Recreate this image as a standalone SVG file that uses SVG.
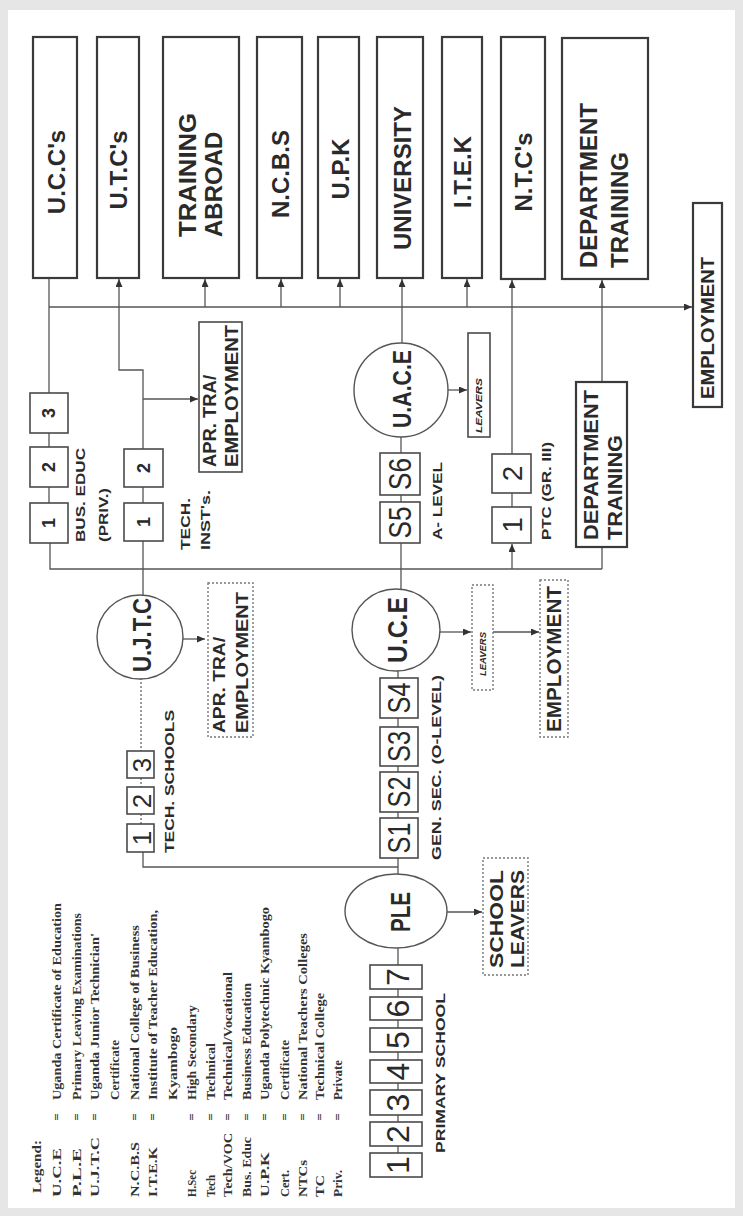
<svg xmlns="http://www.w3.org/2000/svg" width="743" height="1216" viewBox="0 0 743 1216">
<style>
.bg{fill:#e6e6e6}
.page{fill:#fff}
.box{fill:#fff;stroke:#3a3a3a;stroke-width:2.2}
.sbox{fill:#fff;stroke:#4a4a4a;stroke-width:1.6}
.dbox{fill:#fff;stroke:#777;stroke-width:1.4;stroke-dasharray:2 2}
.circ{fill:#fff;stroke:#555;stroke-width:1.4}
.ln{fill:none;stroke:#555;stroke-width:1.3}
.dl{fill:none;stroke:#666;stroke-width:1.3;stroke-dasharray:2 2}
.lbl{font-family:"Liberation Sans",Arial,sans-serif;font-weight:bold;fill:#2a2a2a}
.num{font-family:"Liberation Sans",Arial,sans-serif;fill:#2a2a2a}
.leg{font-family:"Liberation Serif","Times New Roman",serif;font-weight:bold;fill:#333;font-size:12.5px}
</style>
<defs>
<marker id="arr" markerUnits="userSpaceOnUse" markerWidth="8" markerHeight="7" refX="8" refY="3.5" orient="auto">
<path d="M0,0 L8,3.5 L0,7 z" fill="#333"/>
</marker>
</defs>
<rect class="bg" x="0" y="0" width="743" height="1216"/>
<rect class="page" x="8" y="10" width="727" height="1198"/>

<g id="connectors">
<!-- primary school line -->
<line class="ln" x1="398" y1="1165" x2="398" y2="948"/>
<!-- PLE to UCE -->
<line class="ln" x1="398" y1="874" x2="398" y2="671"/>
<!-- junction to tech schools -->
<polyline class="ln" points="398,867 143,867 143,852"/>
<line class="dl" x1="141" y1="852" x2="141" y2="679"/>
<!-- UJTC up to tech inst and UTC -->
<polyline class="ln" points="143,595 143,370 119,370 119,279" marker-end="url(#arr)"/>
<line class="ln" x1="143" y1="399" x2="198" y2="399" marker-end="url(#arr)"/>
<!-- BUS EDUC line -->
<polyline class="ln" points="602,569 50,569 50,543"/>
<line class="ln" x1="49" y1="543" x2="49" y2="278"/>
<!-- upper bus -->
<line class="ln" x1="49" y1="307" x2="692" y2="307" marker-end="url(#arr)"/>
<line class="ln" x1="205" y1="307" x2="205" y2="279" marker-end="url(#arr)"/>
<line class="ln" x1="281" y1="307" x2="281" y2="279" marker-end="url(#arr)"/>
<line class="ln" x1="340" y1="307" x2="340" y2="279" marker-end="url(#arr)"/>
<line class="ln" x1="467" y1="307" x2="467" y2="279" marker-end="url(#arr)"/>
<!-- A level column -->
<line class="ln" x1="401" y1="589" x2="401" y2="437"/>
<line class="ln" x1="402" y1="343" x2="402" y2="279" marker-end="url(#arr)"/>
<!-- PTC column -->
<line class="ln" x1="512" y1="569" x2="512" y2="544" marker-end="url(#arr)"/>
<line class="ln" x1="512" y1="543" x2="512" y2="280" marker-end="url(#arr)"/>
<!-- Department column -->
<line class="ln" x1="602" y1="569" x2="602" y2="547"/>
<line class="ln" x1="602" y1="382" x2="602" y2="280" marker-end="url(#arr)"/>
<!-- leavers arrows -->
<line class="ln" x1="448" y1="390" x2="467" y2="390" marker-end="url(#arr)"/>
<line class="ln" x1="440" y1="632" x2="471" y2="632" marker-end="url(#arr)"/>
<line class="ln" x1="493" y1="632" x2="539" y2="632" marker-end="url(#arr)"/>
<line class="ln" x1="183" y1="639" x2="205" y2="639" marker-end="url(#arr)"/>
<line class="ln" x1="447" y1="912" x2="482" y2="912" marker-end="url(#arr)"/>
</g>

<g id="ucc"><rect class="box" x="33" y="37" width="44" height="241"/>
<text class="lbl" font-size="24" transform="translate(56,172) rotate(-90)" text-anchor="middle" dominant-baseline="central">U.C.C's</text></g>
<g id="utc"><rect class="box" x="97" y="37" width="42" height="241"/>
<text class="lbl" font-size="24" transform="translate(118,170) rotate(-90)" text-anchor="middle" dominant-baseline="central">U.T.C's</text></g>
<g id="abroad"><rect class="box" x="163" y="37" width="76" height="241"/>
<text class="lbl" font-size="24" textLength="124" lengthAdjust="spacingAndGlyphs" transform="translate(187,237) rotate(-90)" dominant-baseline="central">TRAINING</text>
<text class="lbl" font-size="24" transform="translate(213,237) rotate(-90)" dominant-baseline="central">ABROAD</text></g>
<g id="ncbs"><rect class="box" x="257" y="37" width="45" height="241"/>
<text class="lbl" font-size="24" transform="translate(280,174) rotate(-90)" text-anchor="middle" dominant-baseline="central">N.C.B.S</text></g>
<g id="upk"><rect class="box" x="318" y="37" width="41" height="241"/>
<text class="lbl" font-size="24" transform="translate(340,169) rotate(-90)" text-anchor="middle" dominant-baseline="central">U.P.K</text></g>
<g id="university"><rect class="box" x="377" y="37" width="46" height="241"/>
<text class="lbl" font-size="24" transform="translate(402,178) rotate(-90)" text-anchor="middle" dominant-baseline="central">UNIVERSITY</text></g>
<g id="itek"><rect class="box" x="442" y="37" width="40" height="241"/>
<text class="lbl" font-size="24" transform="translate(462,172) rotate(-90)" text-anchor="middle" dominant-baseline="central">I.T.E.K</text></g>
<g id="ntc"><rect class="box" x="501" y="37" width="44" height="242"/>
<text class="lbl" font-size="24" transform="translate(523,172) rotate(-90)" text-anchor="middle" dominant-baseline="central">N.T.C's</text></g>
<g id="dept-top"><rect class="box" x="562" y="38" width="86" height="241"/>
<text class="lbl" font-size="24" transform="translate(588,268) rotate(-90)" dominant-baseline="central">DEPARTMENT</text>
<text class="lbl" font-size="24" transform="translate(619,268) rotate(-90)" dominant-baseline="central">TRAINING</text></g>

<g id="employment-right"><rect class="box" x="693" y="203" width="29" height="204"/>
<text class="lbl" font-size="18" textLength="142" lengthAdjust="spacingAndGlyphs" transform="translate(708,399) rotate(-90)" dominant-baseline="central">EMPLOYMENT</text></g>

<g id="bus-educ">
<rect class="sbox" x="30" y="393" width="38" height="40"/>
<rect class="sbox" x="30" y="447" width="38" height="40"/>
<rect class="sbox" x="30" y="503" width="38" height="40"/>
<text class="lbl" font-size="18" transform="translate(49,413) rotate(-90)" text-anchor="middle" dominant-baseline="central">3</text>
<text class="lbl" font-size="18" transform="translate(49,467) rotate(-90)" text-anchor="middle" dominant-baseline="central">2</text>
<text class="lbl" font-size="18" transform="translate(49,523) rotate(-90)" text-anchor="middle" dominant-baseline="central">1</text>
<text class="lbl" font-size="12" textLength="94" lengthAdjust="spacingAndGlyphs" transform="translate(81,542) rotate(-90)" dominant-baseline="central">BUS.  EDUC</text>
<text class="lbl" font-size="12" textLength="54" lengthAdjust="spacingAndGlyphs" transform="translate(104,542) rotate(-90)" dominant-baseline="central">(PRIV.)</text>
</g>

<g id="tech-inst">
<rect class="sbox" x="124" y="449" width="39" height="38"/>
<rect class="sbox" x="124" y="503" width="39" height="38"/>
<text class="lbl" font-size="18" transform="translate(144,468) rotate(-90)" text-anchor="middle" dominant-baseline="central">2</text>
<text class="lbl" font-size="18" transform="translate(144,522) rotate(-90)" text-anchor="middle" dominant-baseline="central">1</text>
<text class="lbl" font-size="12" textLength="52" lengthAdjust="spacingAndGlyphs" transform="translate(186,550) rotate(-90)" dominant-baseline="central">TECH.</text>
<text class="lbl" font-size="12" textLength="60" lengthAdjust="spacingAndGlyphs" transform="translate(206,550) rotate(-90)" dominant-baseline="central">INST's.</text>
</g>

<g id="apr-solid"><rect class="sbox" x="199" y="322" width="43" height="150"/>
<text class="lbl" font-size="18" textLength="92" lengthAdjust="spacingAndGlyphs" transform="translate(210,467) rotate(-90)" dominant-baseline="central">APR. TRA/</text>
<text class="lbl" font-size="18" textLength="142" lengthAdjust="spacingAndGlyphs" transform="translate(232,467) rotate(-90)" dominant-baseline="central">EMPLOYMENT</text></g>

<g id="ujtc"><ellipse class="circ" cx="140" cy="637" rx="43" ry="42"/>
<text class="lbl" font-size="26" textLength="74" lengthAdjust="spacingAndGlyphs" transform="translate(142,635) rotate(-90)" text-anchor="middle" dominant-baseline="central">U.J.T.C</text></g>

<g id="apr-dotted"><rect class="dbox" x="208" y="583" width="45" height="154"/>
<text class="lbl" font-size="16" textLength="96" lengthAdjust="spacingAndGlyphs" transform="translate(219,733) rotate(-90)" dominant-baseline="central">APR. TRA/</text>
<text class="lbl" font-size="17" textLength="141" lengthAdjust="spacingAndGlyphs" transform="translate(242,733) rotate(-90)" dominant-baseline="central">EMPLOYMENT</text></g>

<g id="tech-schools">
<rect class="sbox" x="127" y="751" width="27" height="27"/>
<rect class="sbox" x="127" y="787" width="27" height="27"/>
<rect class="sbox" x="127" y="824" width="27" height="28"/>
<text class="num" font-size="26" transform="translate(142,765) rotate(-90)" text-anchor="middle" dominant-baseline="central">3</text>
<text class="num" font-size="26" transform="translate(142,801) rotate(-90)" text-anchor="middle" dominant-baseline="central">2</text>
<text class="num" font-size="26" transform="translate(142,838) rotate(-90)" text-anchor="middle" dominant-baseline="central">1</text>
<text class="lbl" font-size="12" textLength="143" lengthAdjust="spacingAndGlyphs" transform="translate(170,853) rotate(-90)" dominant-baseline="central">TECH.  SCHOOLS</text>
</g>

<g id="primary">
<rect class="sbox" x="370" y="1153" width="52" height="24"/>
<rect class="sbox" x="370" y="1122" width="52" height="24"/>
<rect class="sbox" x="370" y="1090" width="52" height="25"/>
<rect class="sbox" x="370" y="1060" width="52" height="23"/>
<rect class="sbox" x="370" y="1028" width="52" height="24"/>
<rect class="sbox" x="370" y="997" width="52" height="23"/>
<rect class="sbox" x="370" y="965" width="52" height="24"/>
<text class="num" font-size="32" transform="translate(398,1165) rotate(-90)" text-anchor="middle" dominant-baseline="central">1</text>
<text class="num" font-size="32" transform="translate(398,1134) rotate(-90)" text-anchor="middle" dominant-baseline="central">2</text>
<text class="num" font-size="32" transform="translate(398,1102.5) rotate(-90)" text-anchor="middle" dominant-baseline="central">3</text>
<text class="num" font-size="32" transform="translate(398,1071.5) rotate(-90)" text-anchor="middle" dominant-baseline="central">4</text>
<text class="num" font-size="32" transform="translate(398,1040) rotate(-90)" text-anchor="middle" dominant-baseline="central">5</text>
<text class="num" font-size="32" transform="translate(398,1008.5) rotate(-90)" text-anchor="middle" dominant-baseline="central">6</text>
<text class="num" font-size="32" transform="translate(398,977) rotate(-90)" text-anchor="middle" dominant-baseline="central">7</text>
<text class="lbl" font-size="12" textLength="160" lengthAdjust="spacingAndGlyphs" transform="translate(441,1153) rotate(-90)" dominant-baseline="central">PRIMARY SCHOOL</text>
</g>

<g id="ple"><ellipse class="circ" cx="396" cy="911" rx="51" ry="37"/>
<text class="lbl" font-size="28" textLength="40" lengthAdjust="spacingAndGlyphs" transform="translate(400,912) rotate(-90)" text-anchor="middle" dominant-baseline="central">PLE</text></g>

<g id="school-leavers"><rect class="dbox" x="483" y="858" width="45" height="117"/>
<text class="lbl" font-size="19" textLength="98" lengthAdjust="spacingAndGlyphs" transform="translate(496,968) rotate(-90)" dominant-baseline="central">SCHOOL</text>
<text class="lbl" font-size="19" textLength="98" lengthAdjust="spacingAndGlyphs" transform="translate(517,968) rotate(-90)" dominant-baseline="central">LEAVERS</text></g>

<g id="gen-sec">
<rect class="sbox" x="380" y="818" width="38" height="40"/>
<rect class="sbox" x="380" y="772" width="38" height="40"/>
<rect class="sbox" x="380" y="727" width="38" height="39"/>
<rect class="sbox" x="380" y="678" width="38" height="40"/>
<text class="num" font-size="32" textLength="31" lengthAdjust="spacingAndGlyphs" transform="translate(399,838) rotate(-90)" text-anchor="middle" dominant-baseline="central">S1</text>
<text class="num" font-size="32" textLength="31" lengthAdjust="spacingAndGlyphs" transform="translate(399,792) rotate(-90)" text-anchor="middle" dominant-baseline="central">S2</text>
<text class="num" font-size="32" textLength="31" lengthAdjust="spacingAndGlyphs" transform="translate(399,746.5) rotate(-90)" text-anchor="middle" dominant-baseline="central">S3</text>
<text class="num" font-size="32" textLength="31" lengthAdjust="spacingAndGlyphs" transform="translate(399,698) rotate(-90)" text-anchor="middle" dominant-baseline="central">S4</text>
<text class="lbl" font-size="12" textLength="185" lengthAdjust="spacingAndGlyphs" transform="translate(437,860) rotate(-90)" dominant-baseline="central">GEN.  SEC.  (O-LEVEL)</text>
</g>

<g id="uce"><ellipse class="circ" cx="396" cy="630" rx="44" ry="41"/>
<text class="lbl" font-size="28" textLength="66" lengthAdjust="spacingAndGlyphs" transform="translate(397,630) rotate(-90)" text-anchor="middle" dominant-baseline="central">U.C.E</text></g>

<g id="leavers-uce"><rect class="dbox" x="472" y="585" width="21" height="105"/>
<text class="lbl" font-size="9" font-style="italic" textLength="44" lengthAdjust="spacingAndGlyphs" transform="translate(483,676) rotate(-90)" dominant-baseline="central">LEAVERS</text></g>

<g id="employment-uce"><rect class="dbox" x="540" y="580" width="28" height="157"/>
<text class="lbl" font-size="20" textLength="146" lengthAdjust="spacingAndGlyphs" transform="translate(554,732) rotate(-90)" dominant-baseline="central">EMPLOYMENT</text></g>

<g id="a-level">
<rect class="sbox" x="380" y="502" width="40" height="41"/>
<rect class="sbox" x="380" y="453" width="40" height="42"/>
<text class="num" font-size="32" textLength="32" lengthAdjust="spacingAndGlyphs" transform="translate(400,522.5) rotate(-90)" text-anchor="middle" dominant-baseline="central">S5</text>
<text class="num" font-size="32" textLength="32" lengthAdjust="spacingAndGlyphs" transform="translate(400,474) rotate(-90)" text-anchor="middle" dominant-baseline="central">S6</text>
<text class="lbl" font-size="12" textLength="78" lengthAdjust="spacingAndGlyphs" transform="translate(438,540) rotate(-90)" dominant-baseline="central">A-  LEVEL</text>
</g>

<g id="uace"><circle class="circ" cx="401" cy="390" r="47"/>
<text class="lbl" font-size="26" textLength="78" lengthAdjust="spacingAndGlyphs" transform="translate(402,389) rotate(-90)" text-anchor="middle" dominant-baseline="central">U.A.C.E</text></g>

<g id="leavers-uace"><rect class="sbox" x="468" y="333" width="22" height="104"/>
<text class="lbl" font-size="9" font-style="italic" textLength="55" lengthAdjust="spacingAndGlyphs" transform="translate(479,433) rotate(-90)" dominant-baseline="central">LEAVERS</text></g>

<g id="ptc">
<rect class="sbox" x="492" y="454" width="39" height="39"/>
<rect class="sbox" x="492" y="507" width="39" height="36"/>
<text class="num" font-size="28" transform="translate(512,473.5) rotate(-90)" text-anchor="middle" dominant-baseline="central">2</text>
<text class="num" font-size="28" transform="translate(512,525) rotate(-90)" text-anchor="middle" dominant-baseline="central">1</text>
<text class="lbl" font-size="12" textLength="98" lengthAdjust="spacingAndGlyphs" transform="translate(547,540) rotate(-90)" dominant-baseline="central">PTC  (GR. III)</text>
</g>

<g id="dept-lower"><rect class="box" x="576" y="382" width="51" height="165"/>
<text class="lbl" font-size="21" textLength="150" lengthAdjust="spacingAndGlyphs" transform="translate(590,540) rotate(-90)" dominant-baseline="central">DEPARTMENT</text>
<text class="lbl" font-size="21" textLength="105" lengthAdjust="spacingAndGlyphs" transform="translate(614,540) rotate(-90)" dominant-baseline="central">TRAINING</text></g>

<g id="legend">
<text class="leg" font-size="14" textLength="53" lengthAdjust="spacingAndGlyphs" transform="translate(37,1193) rotate(-90)" dominant-baseline="central">Legend:</text>
<text class="leg" textLength="49" lengthAdjust="spacingAndGlyphs" transform="translate(57,1197) rotate(-90)" dominant-baseline="central">U.C.E</text>
<text class="leg" transform="translate(57,1117) rotate(-90)" text-anchor="middle" dominant-baseline="central">=</text>
<text class="leg" textLength="197" lengthAdjust="spacingAndGlyphs" transform="translate(57,1100) rotate(-90)" dominant-baseline="central">Uganda Certificate of Education</text>
<text class="leg" textLength="49" lengthAdjust="spacingAndGlyphs" transform="translate(77,1197) rotate(-90)" dominant-baseline="central">P.L.E</text>
<text class="leg" transform="translate(77,1117) rotate(-90)" text-anchor="middle" dominant-baseline="central">=</text>
<text class="leg" textLength="187" lengthAdjust="spacingAndGlyphs" transform="translate(77,1100) rotate(-90)" dominant-baseline="central">Primary Leaving Examinations</text>
<text class="leg" textLength="60" lengthAdjust="spacingAndGlyphs" transform="translate(95,1197) rotate(-90)" dominant-baseline="central">U.J.T.C</text>
<text class="leg" transform="translate(95,1117) rotate(-90)" text-anchor="middle" dominant-baseline="central">=</text>
<text class="leg" textLength="167" lengthAdjust="spacingAndGlyphs" transform="translate(95,1100) rotate(-90)" dominant-baseline="central">Uganda Junior Technician'</text>
<text class="leg" textLength="60" lengthAdjust="spacingAndGlyphs" transform="translate(115,1100) rotate(-90)" dominant-baseline="central">Certificate</text>
<text class="leg" textLength="55" lengthAdjust="spacingAndGlyphs" transform="translate(135,1197) rotate(-90)" dominant-baseline="central">N.C.B.S</text>
<text class="leg" transform="translate(135,1117) rotate(-90)" text-anchor="middle" dominant-baseline="central">=</text>
<text class="leg" textLength="175" lengthAdjust="spacingAndGlyphs" transform="translate(135,1100) rotate(-90)" dominant-baseline="central">National College of Business</text>
<text class="leg" textLength="50" lengthAdjust="spacingAndGlyphs" transform="translate(153,1197) rotate(-90)" dominant-baseline="central">I.T.E.K</text>
<text class="leg" transform="translate(153,1117) rotate(-90)" text-anchor="middle" dominant-baseline="central">=</text>
<text class="leg" textLength="190" lengthAdjust="spacingAndGlyphs" transform="translate(153,1100) rotate(-90)" dominant-baseline="central">Institute of Teacher Education,</text>
<text class="leg" textLength="73" lengthAdjust="spacingAndGlyphs" transform="translate(173,1100) rotate(-90)" dominant-baseline="central">Kyambogo</text>
<text class="leg" textLength="27" lengthAdjust="spacingAndGlyphs" transform="translate(192,1197) rotate(-90)" dominant-baseline="central">H.Sec</text>
<text class="leg" transform="translate(192,1117) rotate(-90)" text-anchor="middle" dominant-baseline="central">=</text>
<text class="leg" textLength="95" lengthAdjust="spacingAndGlyphs" transform="translate(192,1100) rotate(-90)" dominant-baseline="central">High Secondary</text>
<text class="leg" textLength="22" lengthAdjust="spacingAndGlyphs" transform="translate(211,1197) rotate(-90)" dominant-baseline="central">Tech</text>
<text class="leg" transform="translate(211,1117) rotate(-90)" text-anchor="middle" dominant-baseline="central">=</text>
<text class="leg" textLength="57" lengthAdjust="spacingAndGlyphs" transform="translate(211,1100) rotate(-90)" dominant-baseline="central">Technical</text>
<text class="leg" textLength="64" lengthAdjust="spacingAndGlyphs" transform="translate(228,1197) rotate(-90)" dominant-baseline="central">Tech/VOC</text>
<text class="leg" transform="translate(228,1117) rotate(-90)" text-anchor="middle" dominant-baseline="central">=</text>
<text class="leg" textLength="128" lengthAdjust="spacingAndGlyphs" transform="translate(228,1100) rotate(-90)" dominant-baseline="central">Technical/Vocational</text>
<text class="leg" textLength="60" lengthAdjust="spacingAndGlyphs" transform="translate(247,1197) rotate(-90)" dominant-baseline="central">Bus. Educ</text>
<text class="leg" transform="translate(247,1117) rotate(-90)" text-anchor="middle" dominant-baseline="central">=</text>
<text class="leg" textLength="117" lengthAdjust="spacingAndGlyphs" transform="translate(247,1100) rotate(-90)" dominant-baseline="central">Business Education</text>
<text class="leg" textLength="45" lengthAdjust="spacingAndGlyphs" transform="translate(265,1197) rotate(-90)" dominant-baseline="central">U.P.K</text>
<text class="leg" transform="translate(265,1117) rotate(-90)" text-anchor="middle" dominant-baseline="central">=</text>
<text class="leg" textLength="193" lengthAdjust="spacingAndGlyphs" transform="translate(265,1100) rotate(-90)" dominant-baseline="central">Uganda Polytechnic Kyambogo</text>
<text class="leg" textLength="27" lengthAdjust="spacingAndGlyphs" transform="translate(285,1197) rotate(-90)" dominant-baseline="central">Cert.</text>
<text class="leg" transform="translate(285,1117) rotate(-90)" text-anchor="middle" dominant-baseline="central">=</text>
<text class="leg" textLength="60" lengthAdjust="spacingAndGlyphs" transform="translate(285,1100) rotate(-90)" dominant-baseline="central">Certificate</text>
<text class="leg" textLength="37" lengthAdjust="spacingAndGlyphs" transform="translate(303,1197) rotate(-90)" dominant-baseline="central">NTCs</text>
<text class="leg" transform="translate(303,1117) rotate(-90)" text-anchor="middle" dominant-baseline="central">=</text>
<text class="leg" textLength="167" lengthAdjust="spacingAndGlyphs" transform="translate(303,1100) rotate(-90)" dominant-baseline="central">National Teachers Colleges</text>
<text class="leg" textLength="22" lengthAdjust="spacingAndGlyphs" transform="translate(320,1197) rotate(-90)" dominant-baseline="central">TC</text>
<text class="leg" transform="translate(320,1117) rotate(-90)" text-anchor="middle" dominant-baseline="central">=</text>
<text class="leg" textLength="107" lengthAdjust="spacingAndGlyphs" transform="translate(320,1100) rotate(-90)" dominant-baseline="central">Technical College</text>
<text class="leg" textLength="27" lengthAdjust="spacingAndGlyphs" transform="translate(338,1197) rotate(-90)" dominant-baseline="central">Priv.</text>
<text class="leg" transform="translate(338,1117) rotate(-90)" text-anchor="middle" dominant-baseline="central">=</text>
<text class="leg" textLength="40" lengthAdjust="spacingAndGlyphs" transform="translate(338,1100) rotate(-90)" dominant-baseline="central">Private</text>
</g>
</svg>
